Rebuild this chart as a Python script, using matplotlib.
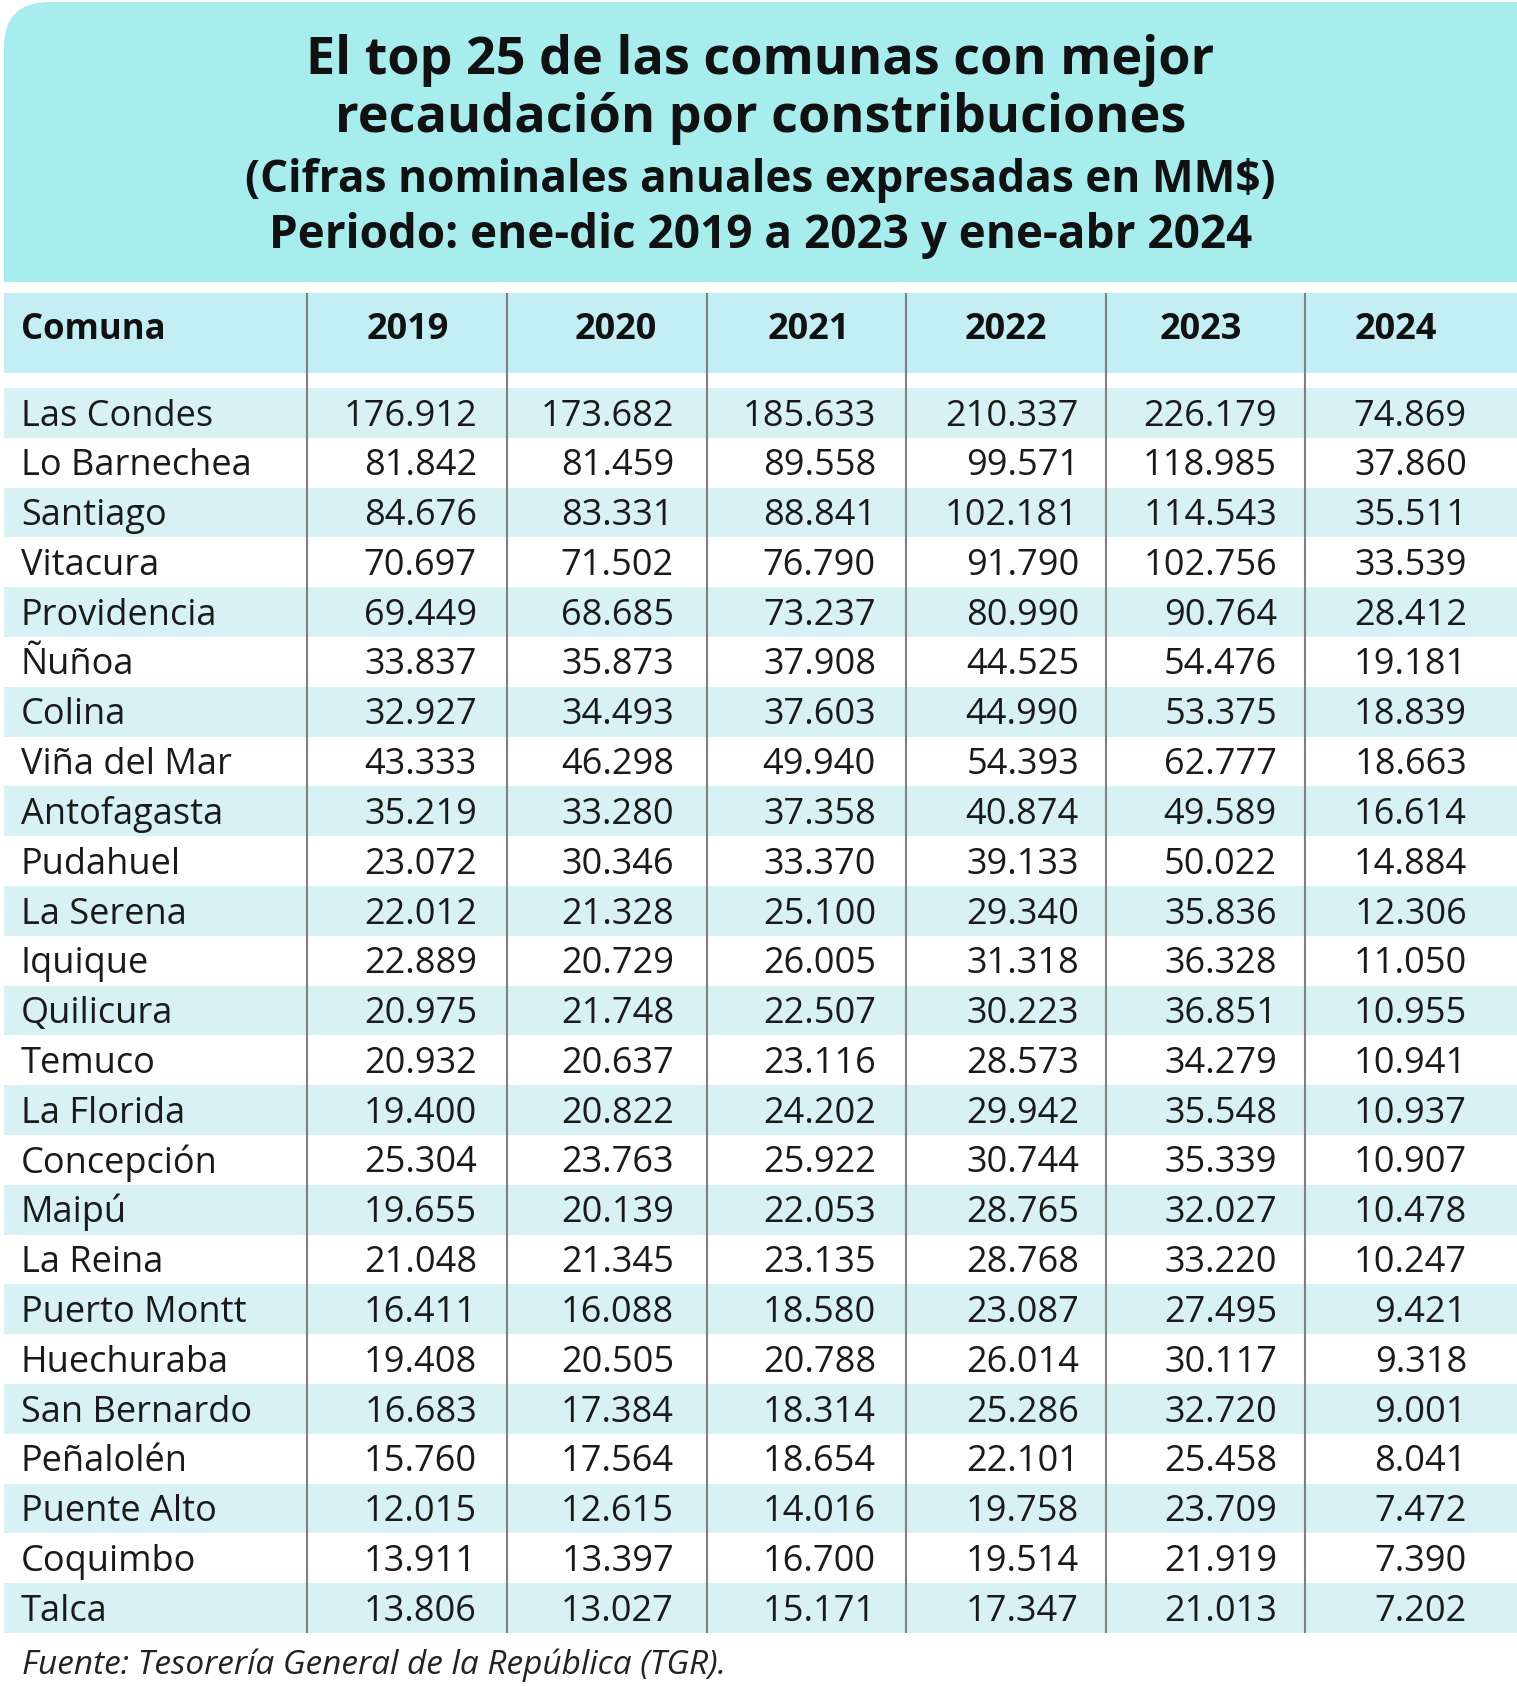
import matplotlib
matplotlib.use("Agg")
import matplotlib.pyplot as plt
from matplotlib.patches import Rectangle, FancyBboxPatch

# datos (MM$, cifras nominales)
comunas = ["Las Condes", "Lo Barnechea", "Santiago", "Vitacura", "Providencia",
           "Ñuñoa", "Colina", "Viña del Mar", "Antofagasta", "Pudahuel",
           "La Serena", "Iquique", "Quilicura", "Temuco", "La Florida",
           "Concepción", "Maipú", "La Reina", "Puerto Montt", "Huechuraba",
           "San Bernardo", "Peñalolén", "Puente Alto", "Coquimbo", "Talca"]
anios = ["2019", "2020", "2021", "2022", "2023", "2024"]

v2019 = [176912, 81842, 84676, 70697, 69449, 33837, 32927, 43333, 35219, 23072,
         22012, 22889, 20975, 20932, 19400, 25304, 19655, 21048, 16411, 19408,
         16683, 15760, 12015, 13911, 13806]
v2020 = [173682, 81459, 83331, 71502, 68685, 35873, 34493, 46298, 33280, 30346,
         21328, 20729, 21748, 20637, 20822, 23763, 20139, 21345, 16088, 20505,
         17384, 17564, 12615, 13397, 13027]
v2021 = [185633, 89558, 88841, 76790, 73237, 37908, 37603, 49940, 37358, 33370,
         25100, 26005, 22507, 23116, 24202, 25922, 22053, 23135, 18580, 20788,
         18314, 18654, 14016, 16700, 15171]
v2022 = [210337, 99571, 102181, 91790, 80990, 44525, 44990, 54393, 40874, 39133,
         29340, 31318, 30223, 28573, 29942, 30744, 28765, 28768, 23087, 26014,
         25286, 22101, 19758, 19514, 17347]
v2023 = [226179, 118985, 114543, 102756, 90764, 54476, 53375, 62777, 49589, 50022,
         35836, 36328, 36851, 34279, 35548, 35339, 32027, 33220, 27495, 30117,
         32720, 25458, 23709, 21919, 21013]
v2024 = [74869, 37860, 35511, 33539, 28412, 19181, 18839, 18663, 16614, 14884,
         12306, 11050, 10955, 10941, 10937, 10907, 10478, 10247, 9421, 9318,
         9001, 8041, 7472, 7390, 7202]
columnas = [v2019, v2020, v2021, v2022, v2023, v2024]

titulo = ["El top 25 de las comunas con mejor",
          "recaudación por constribuciones",
          "(Cifras nominales anuales expresadas en MM$)",
          "Periodo: ene-dic 2019 a 2023 y ene-abr 2024"]
fuente = "Fuente: Tesorería General de la República (TGR)."


def fmt(v):
    return f"{v:,}".replace(",", ".")


W, H = 1517, 1686
C_TITULO = "#a8edee"
C_CABECERA = "#c3eef3"
C_FRANJA = "#d7f1f4"
C_LINEA = "#808080"
FAM = ["Open Sans", "DejaVu Sans"]

fig = plt.figure(figsize=(W / 100, H / 100), dpi=100)
ax = fig.add_axes([0, 0, 1, 1])
ax.set_xlim(0, W)
ax.set_ylim(H, 0)
ax.axis("off")

# caja del título, esquina superior izquierda redondeada
r = 45
ax.add_patch(FancyBboxPatch((4 + r, 2 + r), W - 4 - 2 * r, 280 - 2 * r,
                            boxstyle=f"round,pad={r}", fc=C_TITULO, ec="none"))
ax.add_patch(Rectangle((W / 2, 2), W / 2, 280, fc=C_TITULO, ec="none"))
ax.add_patch(Rectangle((4, 140), W, 142, fc=C_TITULO, ec="none"))

bases = [74, 132, 192, 248]
tamanos = [37.5, 37.5, 31.8, 33]
for linea, yb, fs in zip(titulo, bases, tamanos):
    ax.text(W / 2 + 2, yb, linea, ha="center", va="baseline", fontsize=fs,
            fontweight="bold", family=FAM, color="#111111")

# cabecera
ax.add_patch(Rectangle((4, 293), W - 4, 80, fc=C_CABECERA, ec="none"))
lineas_x = [307, 507, 707, 906, 1106, 1305]
centros = [408, 616, 809, 1006, 1201, 1396]
derechas = [477, 674, 876, 1079, 1277, 1467]

ax.text(21, 339, "Comuna", ha="left", va="baseline", fontsize=25,
        fontweight="bold", family=FAM, color="#111111")
for a, cx in zip(anios, centros):
    ax.text(cx, 339, a, ha="center", va="baseline", fontsize=26,
            fontweight="bold", family=FAM, color="#111111")

# filas
y0 = 388
paso = 49.8
for i, nombre in enumerate(comunas):
    top = y0 + i * paso
    if i % 2 == 0:
        ax.add_patch(Rectangle((4, top), W - 4, paso, fc=C_FRANJA, ec="none"))
    ax.text(21, top + 37.5, nombre, ha="left", va="baseline", fontsize=26,
            family=FAM, color="#1a1a1a")
    for col, xr in zip(columnas, derechas):
        ax.text(xr, top + 37.5, fmt(col[i]), ha="right", va="baseline",
                fontsize=26, family=FAM, color="#1a1a1a")

fondo = y0 + len(comunas) * paso
for x in lineas_x:
    ax.plot([x, x], [293, fondo], color=C_LINEA, lw=1.5, solid_capstyle="butt")

ax.text(22, 1674, fuente, ha="left", va="baseline", fontsize=24,
        style="italic", family=FAM, color="#222222")

fig.savefig("out.png", dpi=100)
